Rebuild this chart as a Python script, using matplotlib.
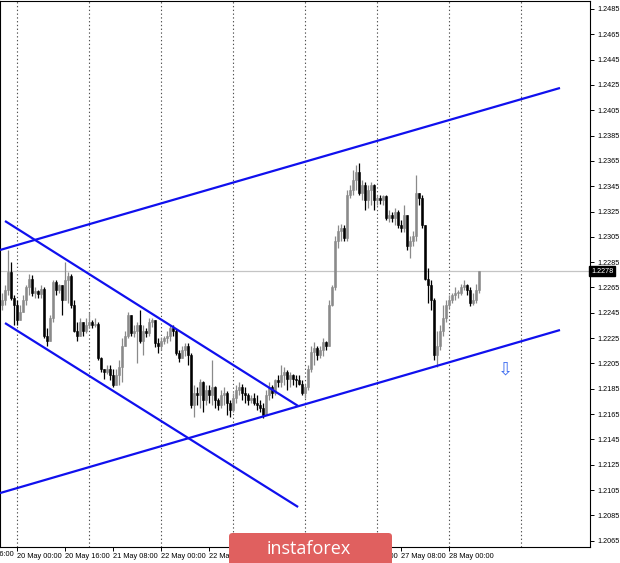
import matplotlib
matplotlib.use("Agg")
import matplotlib.pyplot as plt
from matplotlib.patches import FancyBboxPatch, Rectangle
import matplotlib.transforms as mtransforms
import numpy as np

# ---------------- data (hourly candles) ----------------
first_open = 1.2251
close = [1.2255,1.2263,1.2277,1.2257,1.2251,1.2239,1.2246,1.2255,1.2265,1.2272,
         1.2261,1.2262,1.2260,1.2264,1.2227,1.2223,1.2241,1.2269,1.2263,1.2267,
         1.2255,1.2271,1.2274,1.2251,1.2231,1.2227,1.2238,1.2231,1.2235,1.2238,
         1.2235,1.2236,1.2209,1.2201,1.2198,1.2201,1.2196,1.2188,1.2196,1.2202,
         1.2219,1.2227,1.2243,1.2229,1.2231,1.2235,1.2223,1.2231,1.2229,1.2238,
         1.2239,1.2221,1.2219,1.2223,1.2225,1.2227,1.2233,1.2231,1.2213,1.2209,
         1.2216,1.2219,1.2212,1.2172,1.2182,1.2180,1.2190,1.2176,1.2184,1.2180,
         1.2186,1.2176,1.2172,1.2180,1.2182,1.2174,1.2168,1.2178,1.2184,1.2186,
         1.2182,1.2180,1.2176,1.2178,1.2174,1.2172,1.2170,1.2164,1.2180,1.2186,
         1.2182,1.2192,1.2190,1.2196,1.2198,1.2193,1.2196,1.2193,1.2192,1.2189,
         1.2182,1.2186,1.2201,1.2214,1.2217,1.2212,1.2216,1.2222,1.2219,1.2251,
         1.2265,1.2302,1.2310,1.2312,1.2304,1.2338,1.2342,1.2350,1.2356,1.2340,
         1.2346,1.2334,1.2342,1.2346,1.2334,1.2336,1.2334,1.2337,1.2320,1.2322,
         1.2320,1.2325,1.2314,1.2312,1.2322,1.2298,1.2302,1.2306,1.2340,1.2336,
         1.2314,1.2272,1.2267,1.2255,1.2212,1.2219,1.2231,1.2241,1.2251,1.2255,
         1.2259,1.2261,1.2261,1.2265,1.2267,1.2263,1.2253,1.2255,1.2263,1.2278]
high = [1.2261,1.2267,1.2295,1.2285,1.2259,1.2255,1.2251,1.2259,1.2267,1.2276,
        1.2275,1.2265,1.2263,1.2267,1.2265,1.2233,1.2243,1.2271,1.2271,1.2268,
        1.2267,1.2285,1.2277,1.2276,1.2255,1.2238,1.2241,1.2238,1.2241,1.2246,
        1.2239,1.2241,1.2238,1.2210,1.2201,1.2204,1.2204,1.2201,1.2201,1.2208,
        1.2225,1.2231,1.2246,1.2243,1.2235,1.2238,1.2247,1.2235,1.2233,1.2241,
        1.2241,1.2239,1.2225,1.2226,1.2227,1.2231,1.2235,1.2235,1.2232,1.2216,
        1.2219,1.2221,1.2221,1.2213,1.2188,1.2186,1.2193,1.2191,1.2188,1.2188,
        1.2208,1.2187,1.2178,1.2184,1.2186,1.2183,1.2176,1.2182,1.2188,1.2190,
        1.2189,1.2186,1.2182,1.2180,1.2182,1.2180,1.2176,1.2174,1.2184,1.2190,
        1.2188,1.2193,1.2196,1.2204,1.2202,1.2200,1.2198,1.2197,1.2196,1.2196,
        1.2192,1.2189,1.2204,1.2219,1.2222,1.2219,1.2219,1.2225,1.2223,1.2255,
        1.2267,1.2306,1.2314,1.2315,1.2314,1.2342,1.2346,1.2358,1.2362,1.2363,
        1.2350,1.2348,1.2346,1.2348,1.2347,1.2338,1.2338,1.2338,1.2338,1.2326,
        1.2325,1.2328,1.2326,1.2318,1.2330,1.2322,1.2306,1.2310,1.2354,1.2340,
        1.2338,1.2314,1.2280,1.2271,1.2257,1.2231,1.2235,1.2251,1.2255,1.2259,
        1.2261,1.2265,1.2263,1.2268,1.2271,1.2268,1.2265,1.2261,1.2268,1.2278]
low = [1.2247,1.2251,1.2259,1.2255,1.2235,1.2235,1.2241,1.2246,1.2251,1.2259,
       1.2258,1.2257,1.2257,1.2257,1.2225,1.2219,1.2223,1.2238,1.2259,1.2261,
       1.2243,1.2255,1.2253,1.2249,1.2230,1.2223,1.2227,1.2227,1.2229,1.2233,
       1.2233,1.2234,1.2208,1.2198,1.2193,1.2197,1.2192,1.2186,1.2189,1.2188,
       1.2190,1.2219,1.2225,1.2227,1.2226,1.2205,1.2221,1.2212,1.2226,1.2227,
       1.2234,1.2218,1.2213,1.2216,1.2220,1.2221,1.2223,1.2227,1.2212,1.2206,
       1.2209,1.2211,1.2204,1.2170,1.2163,1.2172,1.2170,1.2167,1.2172,1.2174,
       1.2172,1.2170,1.2168,1.2170,1.2172,1.2164,1.2163,1.2167,1.2174,1.2180,
       1.2176,1.2174,1.2172,1.2174,1.2172,1.2168,1.2167,1.2162,1.2164,1.2176,
       1.2178,1.2180,1.2186,1.2186,1.2188,1.2184,1.2186,1.2188,1.2186,1.2188,
       1.2180,1.2178,1.2184,1.2198,1.2204,1.2208,1.2209,1.2211,1.2216,1.2219,
       1.2250,1.2263,1.2296,1.2302,1.2302,1.2302,1.2336,1.2338,1.2342,1.2338,
       1.2334,1.2326,1.2328,1.2330,1.2326,1.2330,1.2331,1.2330,1.2318,1.2317,
       1.2317,1.2314,1.2312,1.2309,1.2309,1.2295,1.2288,1.2298,1.2302,1.2330,
       1.2312,1.2271,1.2253,1.2247,1.2208,1.2202,1.2216,1.2227,1.2238,1.2249,
       1.2253,1.2255,1.2257,1.2259,1.2263,1.2259,1.2250,1.2251,1.2253,1.2261]

last_price = 1.2278
price_ticks = [1.2485,1.2465,1.2445,1.2425,1.2405,1.2385,1.2365,1.2345,1.2325,1.2305,
               1.2285,1.2265,1.2245,1.2225,1.2205,1.2185,1.2165,1.2145,1.2125,1.2105,
               1.2085,1.2065]
time_tick_idx = [-11,5,21,37,53,69,85,101,117,133,149]
time_tick_labels = ['19 May 16:00','20 May 00:00','20 May 16:00','21 May 08:00',
                    '22 May 00:00','22 May 16:00','25 May 08:00','26 May 00:00',
                    '26 May 16:00','27 May 08:00','28 May 00:00']
day_grid_idx = [5,29,53,77,101,125,149,173]

# trend lines: (bar index start, price start, bar index end, price end)
channel_up_top = (-0.67, 1.22946, 186.0, 1.24226)
channel_up_bottom = (-0.67, 1.21026, 186.0, 1.22314)
channel_down_top = (1.0, 1.23175, 98.7, 1.21714)
channel_down_bottom = (1.0, 1.22369, 98.7, 1.20916)
arrow_pos = (167.7, 1.2200)

# ---------------- figure ----------------
W, H = 620, 563
fig = plt.figure(figsize=(W/100, H/100), dpi=100)
fig.patch.set_facecolor('white')
ax = fig.add_axes([0/W, (H-547)/H, 590/W, 546/H])
ax.set_facecolor('white')

n = len(close)
idx = np.arange(n)
opens = np.array([first_open] + close[:-1])
c = np.array(close)
h = np.maximum(np.array(high), np.maximum(opens, c))
l = np.minimum(np.array(low), np.minimum(opens, c))
bull = c >= opens

bull_col = '#8a8a8a'
bear_col = '#000000'
for i in range(n):
    col = bull_col if bull[i] else bear_col
    ax.vlines(idx[i], l[i], h[i], color=col, lw=0.9, zorder=3)
    lo = min(opens[i], c[i]); hi = max(opens[i], c[i])
    if hi - lo < 0.00008:
        hi = lo + 0.00008
    ax.add_patch(Rectangle((idx[i]-0.33, lo), 0.66, hi-lo, facecolor=col,
                           edgecolor=col, lw=0.4, zorder=4))

# grid / current price line
for g in day_grid_idx:
    ax.axvline(g, color='#505050', lw=0.8, ls=(0, (1.2, 2.2)), zorder=1)
ax.axhline(last_price, color='#c4c4c4', lw=0.9, zorder=1)

# trend lines
blue = '#1010ee'
for ln in (channel_up_top, channel_up_bottom, channel_down_top, channel_down_bottom):
    ax.plot([ln[0], ln[2]], [ln[1], ln[3]], color=blue, lw=1.6, zorder=5,
            solid_capstyle='butt')

ax.text(arrow_pos[0], arrow_pos[1], '\u21e9', color='#3d6cf0', fontsize=13,
        ha='center', va='center', family='DejaVu Sans', zorder=6)

ax.set_xlim(-0.67, 196.0)
ax.set_ylim(1.20600, 1.24913)

# y axis on the right
ax.yaxis.tick_right()
ax.set_yticks(price_ticks)
ax.set_yticklabels([f'{p:.4f}' for p in price_ticks], fontsize=5.2,
                   family='Liberation Sans')
ax.tick_params(axis='y', direction='out', length=3, width=0.7, pad=2, colors='black')

# x axis
vis_idx = [t for t in time_tick_idx if t >= -0.67]
vis_lab = [time_tick_labels[k] for k, t in enumerate(time_tick_idx) if t >= -0.67]
ax.set_xticks(vis_idx)
ax.set_xticklabels(vis_lab, fontsize=5.3, family='Liberation Sans', ha='left')
ax.tick_params(axis='x', direction='out', length=3, width=0.7, pad=1.5, colors='black')
trans = mtransforms.blended_transform_factory(ax.transData, ax.transAxes)
for k, t in enumerate(time_tick_idx):
    if t < -0.67:
        ax.text(t, -0.0065, time_tick_labels[k], transform=trans, fontsize=5.3,
                family='Liberation Sans', ha='left', va='top', clip_on=False)

for sp in ax.spines.values():
    sp.set_color('black')
    sp.set_linewidth(0.8)

# current price marker
ptrans = mtransforms.blended_transform_factory(ax.transAxes, ax.transData)
ax.text(1.002, last_price, '1.2278', transform=ptrans, fontsize=5.2,
        family='Liberation Sans', color='white', ha='left', va='center',
        bbox=dict(boxstyle='square,pad=0.25', fc='black', ec='black'), zorder=10,
        clip_on=False)

# watermark
fig.patches.append(FancyBboxPatch((229/W, -0.02), 163/W, (30/H)+0.02,
                                  boxstyle='round,pad=0,rounding_size=0.006',
                                  transform=fig.transFigure, fc='#e0605f',
                                  ec='none', zorder=20))
fig.text(309/W, (563-549)/H, 'instaforex', color='white', fontsize=13,
         family='Open Sans', ha='center', va='center', zorder=21)

fig.savefig('out.png', dpi=100, facecolor='white')
